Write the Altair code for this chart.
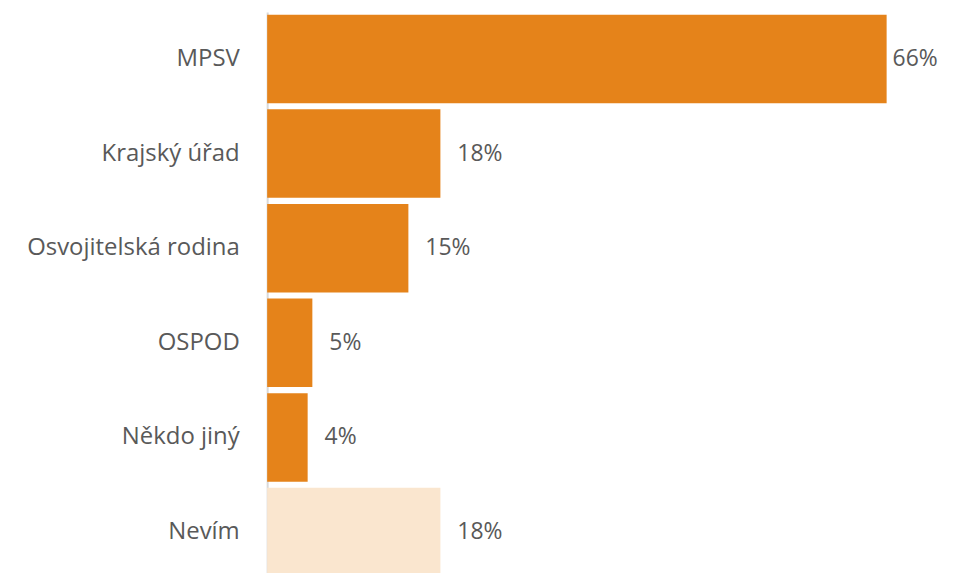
import altair as alt
import pandas as pd

categories = ["MPSV", "Krajský úřad", "Osvojitelská rodina", "OSPOD", "Někdo jiný", "Nevím"]
values = [65.8, 18.4, 15.0, 4.8, 4.3, 18.4]
labels = ["66%", "18%", "15%", "5%", "4%", "18%"]
colors = ["#E5831A", "#E5831A", "#E5831A", "#E5831A", "#E5831A", "#FAE6CF"]

df = pd.DataFrame({"cat": categories, "val": values, "lab": labels, "col": colors})

FONT = "Open Sans"
FS = 24
y = alt.Y("cat:N", sort=categories, title=None,
          scale=alt.Scale(paddingInner=0.065, paddingOuter=0.03),
          axis=alt.Axis(labelFontSize=FS, labelColor="#595959", labelFont=FONT,
                        labelPadding=28, ticks=False, domainColor="#D9D9D9",
                        domainWidth=2, labelLimit=400))
x = alt.X("val:Q", title=None, scale=alt.Scale(domain=[0, 72], nice=False), axis=None)

bars = alt.Chart(df).mark_bar().encode(y=y, x=x, color=alt.Color("col:N", scale=None))
text_enc = dict(y=alt.Y("cat:N", sort=categories), x="val:Q", text="lab:N")
text = alt.Chart(df).mark_text(align="left", dx=17, fontSize=FS - 1, font=FONT, color="#595959").encode(
    **text_enc).transform_filter("datum.val < 60")
text_top = alt.Chart(df).mark_text(align="left", dx=6, fontSize=FS - 1, font=FONT, color="#595959").encode(
    **text_enc).transform_filter("datum.val >= 60")

chart = (bars + text + text_top).properties(
    width=680, height=569,
    autosize=alt.AutoSizeParams(type="none"),
    padding={"left": 260, "top": 3, "right": 0, "bottom": 0},
).configure_view(stroke=None)

chart.save("out.html", embed_options={"renderer": "svg", "actions": False})
